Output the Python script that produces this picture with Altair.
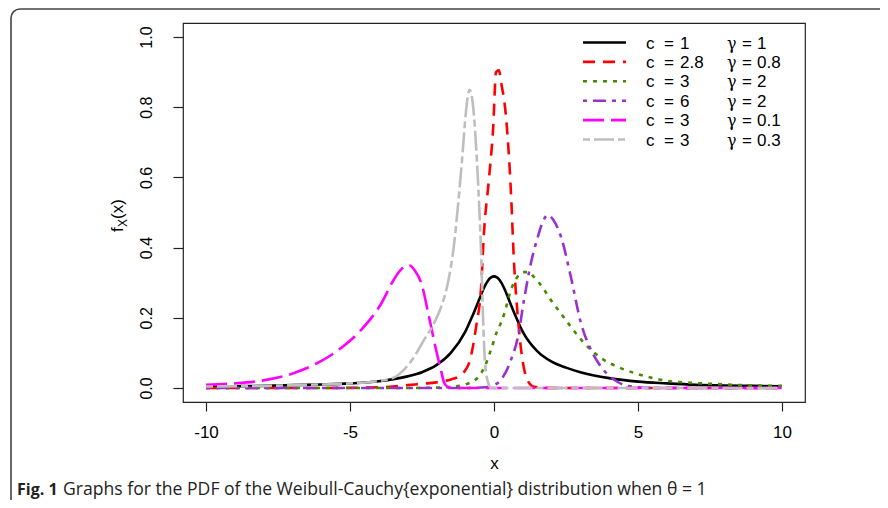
import altair as alt
import pandas as pd

# ---------------- data ----------------
series_names = ["c1_g1", "c2.8_g0.8", "c3_g2", "c6_g2", "c3_g0.1", "c3_g0.3"]
legend_c = ["1", "2.8", "3", "6", "3", "3"]
legend_g = ["1", "0.8", "2", "2", "0.1", "0.3"]

x_black = [-10, -9, -8, -7, -6, -5, -4, -3, -2.5, -2, -1.5, -1, -0.75, -0.5, -0.35, -0.2, -0.1, 0,
           0.1, 0.2, 0.35, 0.5, 0.75, 1, 1.5, 2, 2.5, 3, 4, 5, 6, 7, 8, 9, 10]
y_black = [0.004, 0.005, 0.006, 0.008, 0.010, 0.013, 0.019, 0.033, 0.045, 0.065, 0.10, 0.16,
           0.205, 0.255, 0.285, 0.307, 0.315, 0.318, 0.315, 0.307, 0.285, 0.255, 0.205, 0.16,
           0.105, 0.075, 0.058, 0.045, 0.028, 0.018, 0.013, 0.009, 0.007, 0.006, 0.005]

x_red = [-10, -6, -4.5, -3.5, -3, -2.5, -2, -1.5, -1.25, -1, -0.87, -0.75, -0.62, -0.45,
         -0.35, -0.17, -0.03, 0.07, 0.17, 0.25, 0.42, 0.59, 0.69, 0.83, 1.0, 1.1, 1.22, 1.4,
         2, 4, 10]
y_red = [0, 0, 0.001, 0.004, 0.008, 0.012, 0.016, 0.024, 0.032, 0.05, 0.07, 0.11, 0.175,
         0.285, 0.44, 0.60, 0.74, 0.90, 0.905, 0.87, 0.77, 0.555, 0.365, 0.20, 0.074, 0.035,
         0.014, 0.003, 0, 0, 0]

x_green = [-10, -3, -2, -1.5, -1, -0.56, -0.3, -0.1, 0.1, 0.24, 0.35, 0.59, 0.8, 1.04, 1.2,
           1.39, 1.7, 1.98, 2.3, 2.57, 3.13, 3.72, 4.3, 4.86, 6.04, 7, 7.78, 9, 10]
y_green = [0, 0, 0.001, 0.003, 0.01, 0.03, 0.065, 0.11, 0.16, 0.185, 0.21, 0.28, 0.315, 0.33,
           0.33, 0.316, 0.285, 0.25, 0.215, 0.185, 0.128, 0.085, 0.06, 0.043, 0.02, 0.014,
           0.011, 0.007, 0.006]

x_purple = [-10, -1, -0.3, 0, 0.24, 0.59, 0.83, 1.04, 1.28, 1.52, 1.7, 1.87, 2.05, 2.33, 2.67,
            3.02, 3.37, 3.72, 4.3, 4.86, 5.5, 10]
y_purple = [0, 0, 0.002, 0.008, 0.023, 0.08, 0.145, 0.25, 0.355, 0.43, 0.475, 0.493, 0.48,
            0.43, 0.316, 0.185, 0.108, 0.06, 0.017, 0.003, 0, 0]

x_magenta = [-10, -9, -8.33, -7.15, -6.25, -5.31, -4.62, -3.92, -3.47, -3.2, -2.95, -2.75,
             -2.53, -2.25, -2.01, -1.84, -1.73, -1.6, -1.4, 10]
y_magenta = [0.009, 0.013, 0.018, 0.037, 0.066, 0.114, 0.165, 0.24, 0.31, 0.34, 0.35, 0.335,
             0.30, 0.20, 0.108, 0.05, 0.015, 0.003, 0, 0]

x_gray = [-10, -8, -6, -5, -4, -3.47, -2.78, -2.43, -2.08, -1.84, -1.6, -1.4, -1.25, -1.1,
          -0.97, -0.85, -0.75, -0.69, -0.55, -0.45, -0.38, -0.31, -0.2, -0.1, 10]
y_gray = [0.004, 0.006, 0.01, 0.013, 0.02, 0.03, 0.088, 0.137, 0.185, 0.23, 0.30, 0.40, 0.52,
          0.66, 0.79, 0.85, 0.82, 0.77, 0.58, 0.39, 0.20, 0.07, 0.014, 0, 0]

x_ticks = [-10, -5, 0, 5, 10]
y_ticks = [0, 0.2, 0.4, 0.6, 0.8, 1.0]

caption_bold = "Fig. 1"
caption_rest = "Graphs for the PDF of the Weibull-Cauchy{exponential} distribution when \u03b8 = 1"

# ---------------- styles ----------------
colors = ["#000000", "#FF0000", "#458B00", "#9932CC", "#FF00FF", "#BEBEBE"]
dashes = [[1, 0], [12, 8], [4, 6], [4, 6, 13, 6], [21, 7], [7, 4, 20, 4]]

xs = [x_black, x_red, x_green, x_purple, x_magenta, x_gray]
ys = [y_black, y_red, y_green, y_purple, y_magenta, y_gray]

FONT = "Liberation Sans"

xenc = alt.X("x:Q", scale=alt.Scale(domain=[-10.8, 10.8], nice=False, zero=False),
             axis=alt.Axis(values=x_ticks, title="x", labelExpr="replace(datum.label, '\u2212', '-')",
                           tickSize=9, labelPadding=13, titleY=66, titleBaseline="alphabetic",
                           titleFontSize=17, labelFontSize=17))
yenc = alt.Y("y:Q", scale=alt.Scale(domain=[-0.04, 1.04], nice=False, zero=False),
             axis=alt.Axis(values=y_ticks, title=None, format=".1f", labelAngle=270,
                           labelAlign="center", labelBaseline="alphabetic",
                           tickSize=10, labelPadding=22))

layers = []
for name, xv, yv, col, d in zip(series_names, xs, ys, colors, dashes):
    df = pd.DataFrame({"x": xv, "y": yv, "series": name})
    kw = {}
    if d != [1, 0]:
        kw["strokeDash"] = d
    layers.append(
        alt.Chart(df).mark_line(color=col, strokeWidth=2.6, strokeCap="butt",
                                interpolate="monotone", **kw)
        .encode(x=xenc, y=yenc, order="x:Q")
    )

dummy = pd.DataFrame({"d": [0]})


def txt(s, x, y, size=17, font=FONT, color="black", **kw):
    return (alt.Chart(pd.DataFrame({"t": [s]}))
            .mark_text(font=font, fontSize=size, align="left", baseline="alphabetic",
                       color=color, **kw)
            .encode(x=alt.value(x), y=alt.value(y), text="t:N"))


# legend (manual, as in R)
for i in range(6):
    yrow = 19.5 + 19.4 * i
    kw = {}
    if dashes[i] != [1, 0]:
        kw["strokeDash"] = dashes[i]
    layers.append(alt.Chart(dummy).mark_rule(color=colors[i], strokeWidth=2.6, strokeCap="butt", **kw)
                  .encode(x=alt.value(400), x2=alt.value(443), y=alt.value(yrow)))
    yb = yrow + 6
    layers.append(txt("c", 463, yb))
    layers.append(txt("=", 481, yb))
    layers.append(txt(legend_c[i], 497, yb))
    layers.append(txt("\u03b3", 544, yb, font="DejaVu Serif", size=16))
    layers.append(txt("=", 559, yb))
    layers.append(txt(legend_g[i], 574, yb))

# y-axis title  f_X(x)  (rotated)
layers.append(txt("f", -60, 209, angle=270))
layers.append(txt("X", -56, 204, size=12, angle=270))
layers.append(txt("(x)", -60, 196, angle=270))

# figure frame and caption
layers.append(alt.Chart(dummy).mark_rect(cornerRadius=9, fillOpacity=0, stroke="#444444",
                                          strokeWidth=1.6)
              .encode(x=alt.value(-172), x2=alt.value(730), y=alt.value(-14), y2=alt.value(492)))
layers.append(txt(caption_bold, -166, 472, size=16, font="Open Sans", fontWeight="bold",
                  color="#222222"))
layers.append(txt(caption_rest, -120, 472, size=17.6, font="Open Sans", color="#222222"))

chart = alt.layer(*layers).properties(
    width=622, height=379,
    autosize=alt.AutoSizeParams(type="none"),
    padding={"left": 175, "top": 15, "right": 75, "bottom": 98},
).configure_view(stroke="#222222", strokeWidth=1.2).configure_axis(
    domain=False, grid=False, tickColor="#222222", tickWidth=1.2,
    labelFont=FONT, labelFontSize=16, labelColor="black",
    titleFont=FONT, titleFontWeight="normal", titleColor="black",
)

chart.save("out.html", embed_options={"renderer": "svg", "actions": False})
